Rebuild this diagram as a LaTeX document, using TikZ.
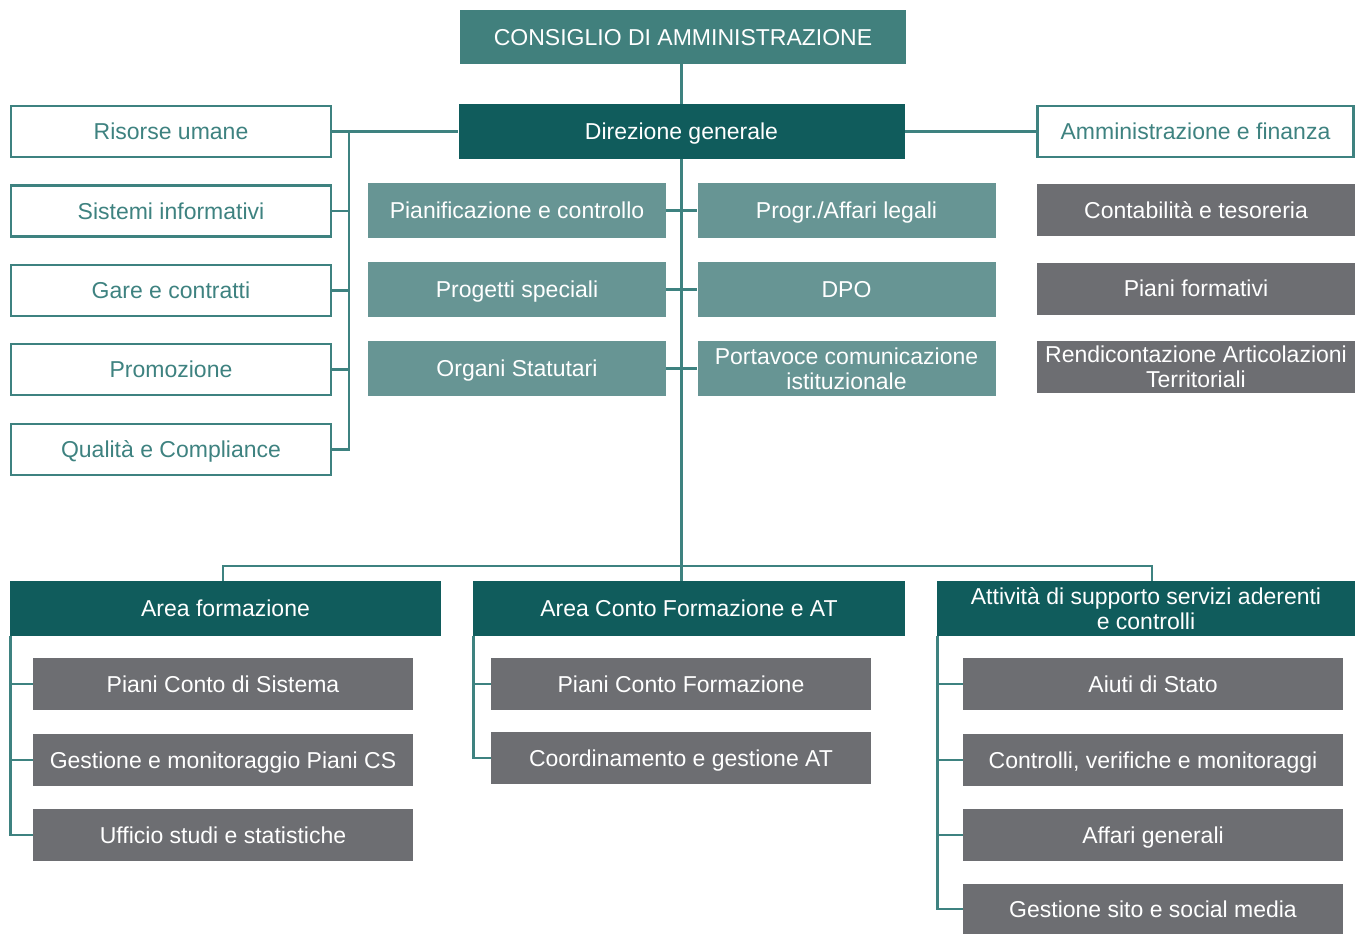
\documentclass[tikz,border=0pt]{standalone}
\usepackage{fontspec}
\setmainfont{Liberation Sans}
\usetikzlibrary{calc}
\definecolor{cdateal}{HTML}{41807D}
\definecolor{darkteal}{HTML}{105C5C}
\definecolor{midteal}{HTML}{679594}
\definecolor{linkteal}{HTML}{3E8280}
\definecolor{unitgrey}{HTML}{6D6E72}
\begin{document}
\begin{tikzpicture}[x=0.5pt,y=-0.5pt,
  box/.style={inner sep=0pt, align=center, text height=8.2pt, text depth=0pt,
    font=\fontsize{11.5}{12.5}\selectfont},
  twoline/.style={text height=20.7pt},
  cdabox/.style={box, fill=cdateal, text=white, minimum width=223pt, minimum height=27pt},
  headbox/.style={box, fill=darkteal, text=white, minimum height=27.5pt},
  staffbox/.style={box, draw=linkteal, line width=1.25pt, text=linkteal, minimum height=25.5pt},
  midbox/.style={box, fill=midteal, text=white, minimum width=149pt, minimum height=27.5pt},
  unitbox/.style={box, fill=unitgrey, text=white, minimum height=26pt},
  link/.style={draw=linkteal, line width=1.3pt}]
\useasboundingbox (0,0) rectangle (1355,934);
% Top of the chart
\node[cdabox] (cda) at (683,37) {CONSIGLIO DI AMMINISTRAZIONE};
\node[headbox, minimum width=223pt] (dg) at (681.5,131.5) {Direzione generale};
% Staff offices on the left
\node[staffbox, minimum width=160pt] (rum) at (171,131.5) {Risorse umane};
\node[staffbox, minimum width=160pt] (sin) at (171,211) {Sistemi informativi};
\node[staffbox, minimum width=160pt] (gar) at (171,290.5) {Gare e contratti};
\node[staffbox, minimum width=160pt] (prm) at (171,369.5) {Promozione};
\node[staffbox, minimum width=160pt] (qua) at (171,449.5) {Qualità e Compliance};
% Offices beside the spine
\node[midbox] (pia) at (517,210.5) {Pianificazione e controllo};
\node[midbox] (psp) at (517,289.5) {Progetti speciali};
\node[midbox] (ors) at (517,368.5) {Organi Statutari};
\node[midbox] (pal) at (846.5,210.5) {Progr./Affari legali};
\node[midbox] (dpo) at (846.5,289.5) {DPO};
\node[midbox, twoline] (pci) at (846.5,368.5) {Portavoce comunicazione\\istituzionale};
% Administration on the right
\node[staffbox, minimum width=158pt] (amm) at (1195.5,131.5) {Amministrazione e finanza};
\node[unitbox, minimum width=159pt] (cte) at (1196,210) {Contabilità e tesoreria};
\node[unitbox, minimum width=159pt] (pfo) at (1196,288.5) {Piani formativi};
\node[unitbox, minimum width=159pt, twoline] (rat) at (1196,367) {Rendicontazione Articolazioni\\Territoriali};
% Areas
\node[headbox, minimum width=215.5pt] (af) at (225.5,608.5) {Area formazione};
\node[headbox, minimum width=216pt] (acf) at (689,608.5) {Area Conto Formazione e AT};
\node[headbox, minimum width=209pt, twoline] (asa) at (1146,608.5) {Attività di supporto servizi aderenti\\e controlli};
% Units of the areas
\node[unitbox, minimum width=190pt] (pcs) at (223,684) {Piani Conto di Sistema};
\node[unitbox, minimum width=190pt] (gmp) at (223,760) {Gestione e monitoraggio Piani CS};
\node[unitbox, minimum width=190pt] (uss) at (223,835) {Ufficio studi e statistiche};
\node[unitbox, minimum width=190pt] (pcf) at (681,684) {Piani Conto Formazione};
\node[unitbox, minimum width=190pt] (cga) at (681,758) {Coordinamento e gestione AT};
\node[unitbox, minimum width=190pt] (ads) at (1153,684) {Aiuti di Stato};
\node[unitbox, minimum width=190pt] (cvm) at (1153,760) {Controlli, verifiche e monitoraggi};
\node[unitbox, minimum width=190pt] (agn) at (1153,835) {Affari generali};
\node[unitbox, minimum width=190pt, minimum height=25pt] (gss) at (1153,909) {Gestione sito e social media};
% Coordinates
\coordinate (lspine) at (349,132);
\coordinate (busl) at (223,566);
\coordinate (busr) at (1152,566);
% Main spine and bus
\draw[link] (dg.north) -- (dg.north |- cda.south);
\draw[link] (dg.south) -- (dg.south |- acf.north);
\draw[link] (busl |- af.north) -- (busl) -- (busr) -- (busr |- asa.north);
% Staff connectors
\draw[link] (rum.east) -- (dg.west);
\draw[link] (lspine) |- (qua.east);
\foreach \n in {sin,gar,prm}
  \draw[link] (\n.east) -- (lspine |- \n.east);
\draw[link] (dg.east) -- (amm.west);
% Side offices
\foreach \a/\b in {pia/pal,psp/dpo,ors/pci}
  \draw[link] (\a.east) -- (\b.west);
% Areas to their units
\draw[link] ([xshift=0.5pt]af.south west) |- (uss.west);
\foreach \n in {pcs,gmp}
  \draw[link] ([xshift=0.5pt]af.south west |- \n.west) -- (\n.west);
\draw[link] ([xshift=0.5pt]acf.south west) |- (cga.west);
\draw[link] ([xshift=0.5pt]acf.south west |- pcf.west) -- (pcf.west);
\draw[link] ([xshift=0.5pt]asa.south west) |- (gss.west);
\foreach \n in {ads,cvm,agn}
  \draw[link] ([xshift=0.5pt]asa.south west |- \n.west) -- (\n.west);
\end{tikzpicture}
\end{document}
